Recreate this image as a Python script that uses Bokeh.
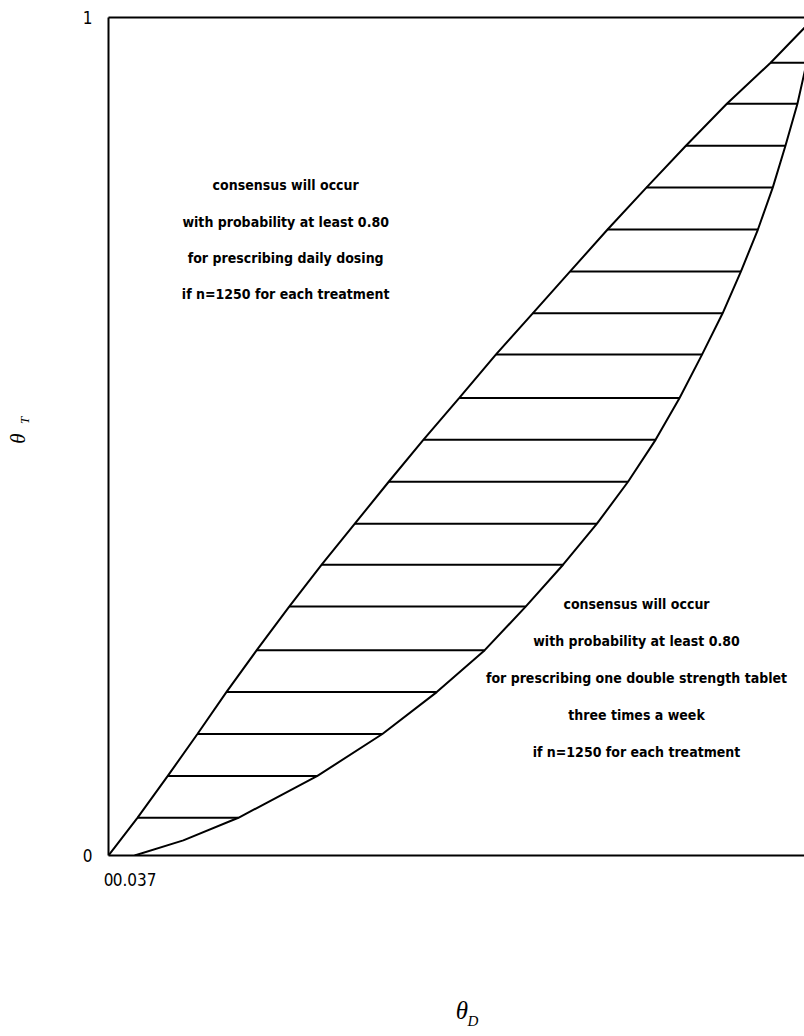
import math
from bokeh.plotting import figure
from bokeh.layouts import row, column
from bokeh.models import Range1d, LinearAxis, FixedTicker, Label, CustomJSTickFormatter
from bokeh.embed import file_html
from bokeh.resources import INLINE

# ---- data ----
hatch_levels = [0.045, 0.095, 0.145, 0.195, 0.245, 0.297, 0.347, 0.396, 0.446, 0.496,
                0.546, 0.598, 0.647, 0.697, 0.747, 0.797, 0.847, 0.897, 0.946]
upper_x = [0.041, 0.084, 0.126, 0.167, 0.210, 0.256, 0.302, 0.349, 0.397, 0.446,
           0.497, 0.549, 0.601, 0.654, 0.707, 0.762, 0.818, 0.876, 0.938]
lower_x = [0.184, 0.296, 0.388, 0.465, 0.533, 0.591, 0.644, 0.692, 0.736, 0.775,
           0.809, 0.841, 0.870, 0.896, 0.920, 0.941, 0.959, 0.976, 0.989]

upper_curve_x = [0.0] + upper_x + [1.0]
upper_curve_y = [0.0] + hatch_levels + [1.0]
lower_curve_x = [0.037, 0.106] + lower_x + [1.0]
lower_curve_y = [0.0, 0.018] + hatch_levels + [1.0]

x_ticks = [0, 0.037]
y_ticks = [0, 1]

upper_text = ["consensus will occur",
              "with probability at least 0.80",
              "for prescribing daily dosing",
              "if n=1250 for each treatment"]
lower_text = ["consensus will occur",
              "with probability at least 0.80",
              "for prescribing one double strength tablet",
              "three times a week",
              "if n=1250 for each treatment"]

FONT = "DejaVu Sans Condensed, Liberation Sans, sans-serif"
SERIF = "Liberation Serif"

# ---------------- main plot ----------------
p = figure(width=764, height=900, output_backend="svg", toolbar_location=None,
           x_range=Range1d(0, 0.986), y_range=Range1d(0, 1),
           min_border_left=68, min_border_right=0, min_border_top=17, min_border_bottom=45)
p.outline_line_color = None
p.xgrid.visible = False
p.ygrid.visible = False

fmt = CustomJSTickFormatter(code="return String(tick)")
for ax, ticks, standoff in ((p.xaxis[0], x_ticks, 17), (p.yaxis[0], y_ticks, 16)):
    ax.ticker = FixedTicker(ticks=ticks)
    ax.formatter = fmt
    ax.axis_line_width = 2
    ax.axis_line_color = "black"
    ax.major_tick_out = 0
    ax.major_tick_in = 0
    ax.minor_tick_out = 0
    ax.minor_tick_in = 0
    ax.major_label_standoff = standoff
    ax.major_label_text_font = FONT
    ax.major_label_text_font_size = "17px"
    ax.major_label_text_color = "black"

top = LinearAxis(ticker=FixedTicker(ticks=[]), axis_line_width=2, axis_line_color="black",
                 major_tick_out=0, major_tick_in=0, minor_tick_out=0, minor_tick_in=0,
                 major_label_standoff=0, major_label_text_font_size="0px")
p.add_layout(top, "above")

p.line(upper_curve_x, upper_curve_y, line_color="black", line_width=2)
p.line(lower_curve_x, lower_curve_y, line_color="black", line_width=2)
p.segment(x0=upper_x, y0=hatch_levels, x1=lower_x, y1=hatch_levels,
          line_color="black", line_width=2)

up_ys = [0.800, 0.756, 0.713, 0.670]
for t, yy in zip(upper_text, up_ys):
    p.add_layout(Label(x=0.251, y=yy, text=t, text_align="center", text_baseline="middle",
                       text_font=FONT, text_font_size="14px", text_font_style="bold",
                       text_color="black"))
lo_ys = [0.300, 0.256, 0.212, 0.168, 0.124]
for t, yy in zip(lower_text, lo_ys):
    p.add_layout(Label(x=0.748, y=yy, text=t, text_align="center", text_baseline="middle",
                       text_font=FONT, text_font_size="14px", text_font_style="bold",
                       text_color="black"))


def blank(w, h):
    f = figure(width=w, height=h, output_backend="svg", toolbar_location=None,
               x_range=Range1d(0, w), y_range=Range1d(0, h),
               x_axis_location=None, y_axis_location=None,
               min_border=0, min_border_left=0, min_border_right=0,
               min_border_top=0, min_border_bottom=0)
    f.outline_line_color = None
    f.grid.visible = False
    return f


# ---------------- x-axis title (theta_D) ----------------
bx = blank(764, 136)
bx.add_layout(Label(x=388, y=26, text="θ", text_align="center", text_baseline="middle",
                    text_font=SERIF, text_font_style="italic", text_font_size="25px",
                    text_color="black"))
bx.add_layout(Label(x=400, y=16, text="D", text_align="center", text_baseline="middle",
                    text_font=SERIF, text_font_style="italic", text_font_size="15px",
                    text_color="black"))

# ---------------- y-axis title (theta_T) ----------------
ly = blank(40, 1036)
ly.add_layout(Label(x=17, y=598, text="θ", text_align="center", text_baseline="middle",
                    angle=math.pi / 2, text_font=SERIF, text_font_style="italic",
                    text_font_size="21px", text_color="black"))
ly.add_layout(Label(x=24, y=616, text="T", text_align="center", text_baseline="middle",
                    angle=math.pi / 2, text_font=SERIF, text_font_style="italic",
                    text_font_size="13px", text_color="black"))

layout = row(ly, column(p, bx, spacing=0), spacing=0)
open("out.html", "w").write(file_html(layout, INLINE))
